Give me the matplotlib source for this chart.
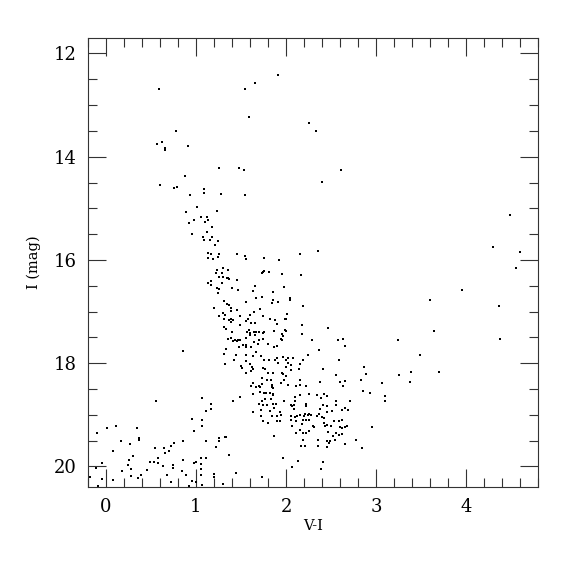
import matplotlib
matplotlib.use("Agg")
import matplotlib.pyplot as plt
import numpy as np
from matplotlib.ticker import MultipleLocator

# (V-I, I) pairs, grouped by region of the diagram
bright = [(0.59,12.69),(0.78,13.50),(0.57,13.75),(0.62,13.72),(0.65,13.84),(0.65,13.87),(0.91,13.79),
          (0.88,14.38),(0.60,14.54),(0.76,14.61),(0.79,14.59),(0.93,14.75),(1.09,14.62),(1.09,14.71),
          (1.01,14.97),(0.89,15.08),(0.98,15.23),(0.92,15.29),(0.95,15.49),(1.12,15.46),(1.08,15.56),
          (1.09,15.61),(1.91,12.41),(1.66,12.57),(1.54,12.68),(1.59,13.24),(2.26,13.35),(2.33,13.51),
          (1.25,14.22),(1.48,14.22),(1.53,14.26),(2.61,14.26),(2.40,14.49),(1.28,14.72),(1.54,14.75),
          (1.23,15.06),(1.06,15.17),(1.12,15.17),(1.13,15.23),(1.10,15.26),(1.18,15.36),(1.15,15.62),
          (1.18,15.55),(1.24,15.63),(1.21,15.71)]

upper_branch = [(1.13,15.87),(1.17,15.88),(1.25,15.88),(1.13,15.97),(1.19,15.99),(1.24,15.95),(1.46,15.89),
                (1.54,15.93),(1.56,15.99),(1.75,15.97),(1.30,16.15),(1.36,16.20),(1.23,16.20),(1.22,16.25),
                (1.29,16.26),(1.74,16.23),(1.73,16.26),(1.26,16.33),(1.30,16.33),(1.34,16.35),(1.36,16.36),
                (1.37,16.37),(1.45,16.38),(1.13,16.44),(1.17,16.41),(1.17,16.49),(1.29,16.44),(1.66,16.50),
                (1.23,16.54),(1.25,16.57),(1.40,16.55),(1.47,16.59),(1.63,16.60),(1.24,16.64),(1.67,16.73),
                (1.73,16.71),(1.31,16.80),(1.34,16.86),(1.37,16.88),(1.55,16.82),(1.39,16.93),(1.20,16.93),
                (1.46,16.97),(1.71,16.96),(1.30,17.02),(1.25,17.09),(1.32,17.07),(1.39,16.99),(1.49,17.09),
                (1.64,17.01),(1.60,17.06),(1.74,17.09),(1.31,17.14),(1.37,17.16),(1.39,17.15),(1.41,17.16),
                (1.39,17.20),(1.56,17.19),(1.58,17.14),(1.61,17.22),(1.65,17.22),(1.31,17.30),(1.33,17.33),
                (1.49,17.27),(1.40,17.40),(1.59,17.36),(1.57,17.39),(1.67,17.40),(1.70,17.40),(1.56,17.52),
                (1.60,17.42),(1.64,17.39)]

upper_red = [(1.92,16.00),(2.16,15.89),(2.35,15.83),(1.76,16.22),(1.81,16.24),(1.96,16.27),(2.17,16.29),
             (1.98,16.53),(1.86,16.63),(2.04,16.73),(2.04,16.78),(1.85,16.78),(1.84,16.84),(1.91,16.82),
             (2.19,16.89),(2.01,17.05),(2.00,17.14),(1.99,17.15),(1.82,17.15),(1.88,17.17),(1.90,17.25),
             (2.18,17.26),(2.47,17.31),(1.87,17.37),(1.99,17.36),(2.00,17.38),(1.76,17.40),(1.74,17.42),
             (2.18,17.43),(1.95,17.44),(1.94,17.53)]

mid_branch = [(0.85,17.76),(1.35,17.53),(1.39,17.52),(1.43,17.55),(1.45,17.58),(1.47,17.56),(1.49,17.55),
              (1.41,17.58),(1.60,17.46),(1.65,17.46),(1.70,17.55),(1.69,17.62),(1.64,17.60),(1.52,17.65),
              (1.56,17.65),(1.56,17.68),(1.61,17.68),(1.48,17.69),(1.33,17.73),(1.31,17.82),(1.44,17.85),
              (1.56,17.85),(1.63,17.87),(1.67,17.79),(1.42,17.94),(1.55,17.95),(1.60,18.01),(1.32,18.02),
              (1.50,18.06),(1.51,18.10),(1.62,18.08),(1.63,18.11),(1.61,18.16),(1.55,18.20),(1.63,18.38),
              (1.61,18.44),(1.67,18.46),(1.70,18.44),(1.71,18.46),(1.49,18.65),(1.41,18.73),(1.63,18.60),
              (1.75,18.58),(1.07,18.68),(1.17,18.79),(1.17,18.88),(1.11,18.92),(1.70,18.80),(1.73,18.74),
              (1.63,18.95),(0.95,19.08),(1.07,19.10)]

red_clump = [(1.74,17.54),(1.80,17.62),(1.87,17.69),(1.90,17.67),(1.95,17.55),(1.97,17.47),(2.29,17.56),
             (2.58,17.55),(2.63,17.54),(2.66,17.66),(2.37,17.75),(2.24,17.84),(1.72,17.86),(1.75,17.94),
             (1.81,17.93),(1.88,17.94),(1.90,17.91),(1.97,17.89),(2.00,17.93),(2.02,17.91),(2.08,17.90),
             (2.19,17.94),(2.59,17.94),(1.91,17.99),(2.02,17.99),(2.06,18.03),(2.15,18.02),(1.74,18.09),
             (1.77,18.11),(2.00,18.08),(2.14,18.11),(2.41,18.11),(1.80,18.20),(1.85,18.19),(1.95,18.20),
             (1.97,18.21),(2.06,18.14),(2.00,18.25),(2.56,18.23),(1.73,18.29),(1.79,18.33),(1.83,18.32),
             (1.98,18.32),(2.16,18.33),(1.94,18.38),(2.38,18.36),(2.60,18.37),(2.66,18.34),(1.73,18.40),
             (1.84,18.42),(1.84,18.47),(1.85,18.49),(2.02,18.42),(2.11,18.44),(2.16,18.42),(2.22,18.44),
             (2.63,18.45),(1.78,18.57),(1.82,18.57),(1.86,18.60),(1.85,18.62),(2.10,18.65),(2.15,18.62),
             (2.26,18.60),(2.34,18.62),(2.42,18.59),(2.39,18.68),(2.46,18.64),(1.71,18.56),(1.77,18.69),
             (1.83,18.70),(1.98,18.73),(2.10,18.74),(2.55,18.73),(2.56,18.82),(2.45,18.84),(2.41,18.81),
             (1.74,18.82),(1.79,18.81),(1.85,18.80),(1.89,18.79),(2.05,18.81),(2.09,18.81),(2.22,18.79),
             (2.22,18.84),(2.65,18.87),(2.69,18.91),(2.62,18.90),(1.72,18.91),(1.82,18.92),(1.87,18.87),
             (1.93,18.95),(2.07,18.83),(2.09,18.89),(2.38,18.89),(2.46,18.94),(2.51,18.92),(1.84,19.02),
             (1.90,19.02),(1.94,19.01),(2.06,19.02),(2.10,19.05),(2.12,19.03),(2.15,19.01),(2.20,19.03),
             (2.21,18.99),(2.24,19.00),(2.26,18.98),(2.28,19.00),(2.34,19.02),(2.37,18.99),(2.40,19.04),
             (2.42,19.07),(2.53,19.12),(2.59,19.12),(2.62,19.11),(1.72,19.03),(1.74,19.12),(1.90,19.13),
             (1.93,19.13),(2.05,19.11),(2.11,19.13),(2.19,19.11),(2.22,19.10),(2.25,19.10),(2.18,19.18),
             (2.42,19.16)]

faint_red = [(2.07,19.22),(2.30,19.22),(2.31,19.23),(2.43,19.22),(2.45,19.20),(2.50,19.22),(2.60,19.23),
             (2.62,19.25),(2.66,19.23),(2.68,19.22),(2.11,19.36),(2.16,19.30),(2.19,19.36),(2.22,19.36),
             (2.25,19.32),(2.47,19.33),(2.52,19.42),(2.56,19.36),(2.59,19.39),(2.62,19.38),(2.19,19.49),
             (2.36,19.49),(2.46,19.51),(2.48,19.54),(2.49,19.50),(2.54,19.48),(2.66,19.56),(2.17,19.61),
             (2.21,19.61),(2.35,19.60),(2.46,19.63),(1.80,19.16),(1.87,19.41),(1.97,19.83),(2.13,19.89),
             (2.07,20.01),(2.41,19.91),(2.39,20.05)]

faint_blue = [(1.07,19.21),(0.98,19.31),(0.85,19.50),(1.11,19.50),(1.25,19.46),(1.26,19.50),(1.32,19.44),
              (1.33,19.43),(1.22,19.63),(1.37,19.78),(0.85,19.87),(0.98,19.94),(1.00,19.92),(1.05,19.96),
              (1.05,19.84),(1.11,19.83),(0.84,20.09),(0.89,20.17),(1.05,20.05),(1.05,20.16),(1.20,20.14),
              (1.20,20.21),(1.44,20.12),(0.95,20.28),(1.00,20.30),(0.92,20.38),(1.07,20.37),(1.30,20.35),
              (1.73,20.21),(0.55,18.74),(-0.10,19.36),(0.01,19.25),(0.11,19.21),(0.34,19.25),(0.17,19.50),
              (0.27,19.56),(0.37,19.49),(0.37,19.45),(0.08,19.70),(0.30,19.80),(0.25,19.87),(-0.05,19.94),
              (-0.11,20.03),(-0.18,20.20),(-0.04,20.25),(-0.09,20.38),(0.08,20.27),(0.18,20.09),(0.24,19.97),
              (0.28,20.05),(0.28,20.18),(0.39,20.16),(0.35,20.23),(0.45,20.07),(0.49,19.92),(0.53,19.92),
              (0.54,19.65),(0.58,19.83),(0.58,19.94),(0.63,19.99),(0.64,19.65),(0.65,19.74),(0.70,19.70),
              (0.72,19.60),(0.76,19.54),(0.68,20.16),(0.74,19.97),(0.74,20.03),(0.72,20.31)]

very_red = [(4.49,15.13),(4.30,15.75),(4.60,15.84),(4.56,16.16),(3.95,16.59),(3.60,16.78),(4.37,16.89),
            (3.64,17.37),(3.24,17.55),(4.38,17.53),(3.49,17.84),(2.87,18.07),(2.89,18.21),(2.83,18.33),
            (3.39,18.18),(3.70,18.17),(3.25,18.23),(3.07,18.38),(3.38,18.36),(2.86,18.54),(2.93,18.58),
            (2.71,18.74),(3.10,18.64),(3.10,18.74),(2.96,19.24),(2.78,19.49),(2.84,19.65)]

groups = [bright, upper_branch, upper_red, mid_branch, red_clump, faint_red, faint_blue, very_red]

fig = plt.figure(figsize=(5.75, 5.75), dpi=100)
ax = fig.add_axes([88/575, 1-487/575, 450/575, 449/575])

for g in groups:
    arr = np.array(g)
    ax.plot(arr[:, 0], arr[:, 1], 's', color='black', ms=1.8, mew=0)

ax.set_xlim(-0.2, 4.8)
ax.set_ylim(20.4, 11.7)
ax.xaxis.set_major_locator(MultipleLocator(1))
ax.xaxis.set_minor_locator(MultipleLocator(0.2))
ax.yaxis.set_major_locator(MultipleLocator(2))
ax.yaxis.set_minor_locator(MultipleLocator(0.5))
ax.tick_params(which='both', direction='in', top=True, right=True, width=0.8, color='#333333')
ax.tick_params(which='major', length=13, pad=8, labelsize=13)
ax.tick_params(which='minor', length=6.5)
for s in ax.spines.values():
    s.set_linewidth(0.8)
    s.set_color('#333333')
for lab in ax.get_xticklabels() + ax.get_yticklabels():
    lab.set_family('DejaVu Serif')

ax.set_xlabel('V-I', family='DejaVu Serif', fontsize=10.5, labelpad=2)
ax.set_ylabel('I (mag)', family='DejaVu Serif', fontsize=10.5, labelpad=9)

fig.savefig('out.png', dpi=100)
